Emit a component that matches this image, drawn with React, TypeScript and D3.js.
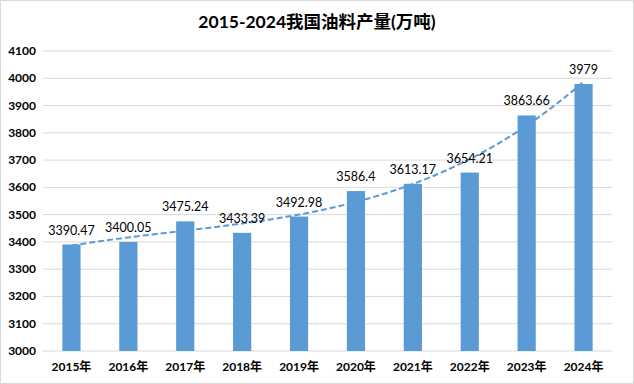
import React from "react";
import * as d3 from "d3";

const years = ["2015年", "2016年", "2017年", "2018年", "2019年", "2020年", "2021年", "2022年", "2023年", "2024年"];
const values = [3390.47, 3400.05, 3475.24, 3433.39, 3492.98, 3586.4, 3613.17, 3654.21, 3863.66, 3979];
const valueLabels = ["3390.47", "3400.05", "3475.24", "3433.39", "3492.98", "3586.4", "3613.17", "3654.21", "3863.66", "3979"];
const yTicks = [3000, 3100, 3200, 3300, 3400, 3500, 3600, 3700, 3800, 3900, 4000, 4100];
const title = "2015-2024我国油料产量(万吨)";
const trendDegree = 3;

const W = 634, H = 384;
const M = { left: 43, right: 22, top: 51, bottom: 33 };
const FONT = "Lato, 'Noto Sans CJK SC', sans-serif";

function polyFit(ys: number[], deg: number) {
  const m = deg + 1;
  const A: number[][] = Array.from({ length: m }, () => new Array(m + 1).fill(0));
  ys.forEach((y, i) => {
    const x = i + 1;
    for (let r = 0; r < m; r++) {
      for (let c = 0; c < m; c++) A[r][c] += Math.pow(x, r + c);
      A[r][m] += Math.pow(x, r) * y;
    }
  });
  for (let i = 0; i < m; i++) {
    for (let j = i + 1; j < m; j++) {
      const f = A[j][i] / A[i][i];
      for (let k = i; k <= m; k++) A[j][k] -= f * A[i][k];
    }
  }
  const c = new Array(m).fill(0);
  for (let i = m - 1; i >= 0; i--) {
    let s = A[i][m];
    for (let k = i + 1; k < m; k++) s -= A[i][k] * c[k];
    c[i] = s / A[i][i];
  }
  return (x: number) => c.reduce((acc, ci, k) => acc + ci * Math.pow(x, k), 0);
}

export default function App() {
  const x = d3.scaleBand<string>().domain(years).range([M.left, W - M.right]).paddingInner(0.68).paddingOuter(0.34);
  const y = d3.scaleLinear().domain([3000, 4100]).range([H - M.bottom, M.top]);
  const fit = polyFit(values, trendDegree);
  const trendPts: [number, number][] = [];
  for (let t = 1; t <= values.length + 1e-9; t += 0.1) {
    const xi = x(years[0])! + x.bandwidth() / 2 + (t - 1) * x.step();
    trendPts.push([xi, y(fit(t))]);
  }
  const line = d3.line().curve(d3.curveBasis)(trendPts) || "";
  return (
    <svg width={W} height={H} style={{ position: "fixed", left: 0, top: 0, background: "#fff" }} fontFamily={FONT}>
      <rect x={0.5} y={0.5} width={W - 1} height={H - 1} fill="#fff" stroke="#d9d9d9" />
      <text x={W / 2} y={28} textAnchor="middle" fontSize={17.5} fontWeight="bold" fill="#000">{title}</text>
      {yTicks.map((t) => (
        <g key={t}>
          <line x1={M.left} x2={W - M.right} y1={y(t)} y2={y(t)} stroke="#d9d9d9" />
          <text x={36} y={y(t) + 4} textAnchor="end" fontSize={12} fontWeight="bold" fill="#000">{t}</text>
        </g>
      ))}
      {values.map((v, i) => (
        <rect key={i} x={x(years[i])} y={y(v)} width={x.bandwidth()} height={y(3000) - y(v)} fill="#5b9bd5" />
      ))}
      <path d={line} fill="none" stroke="#5b9bd5" strokeWidth={2} strokeDasharray="6,3" />
      {values.map((v, i) => (
        <text key={i} x={x(years[i])! + x.bandwidth() / 2} y={y(v) - 10} textAnchor="middle" fontSize={12.5} fill="#000">{valueLabels[i]}</text>
      ))}
      {years.map((yr) => (
        <text key={yr} x={x(yr)! + x.bandwidth() / 2} y={H - 13} textAnchor="middle" fontSize={12} fontWeight="bold" fill="#000">{yr}</text>
      ))}
    </svg>
  );
}
